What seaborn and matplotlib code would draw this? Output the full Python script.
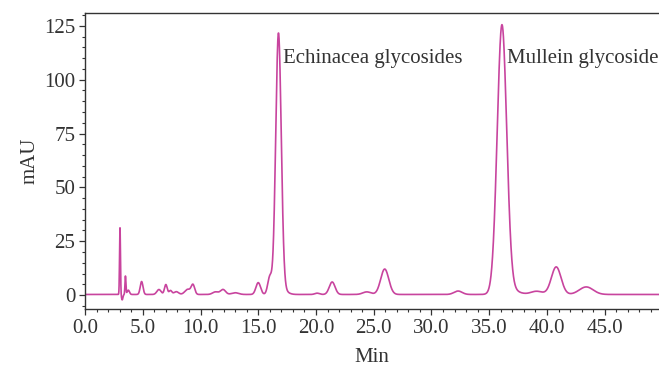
import numpy as np
import pandas as pd
import matplotlib
matplotlib.use("Agg")
import matplotlib.pyplot as plt
import seaborn as sns
from matplotlib.ticker import MultipleLocator

# Peak table (retention time min, height mAU, width sigma min)
peak_rt = [3.03, 3.22, 3.50, 3.75, 4.90, 6.40, 7.00, 7.40, 7.90, 8.90, 9.35,
           11.30, 11.95, 13.00, 15.00, 16.00, 16.75, 17.10, 20.10, 21.40, 24.40,
           25.95, 32.30, 36.10, 36.70, 39.10, 40.80, 43.40]
peak_height = [31.0, -2.5, 8.5, 2.0, 6.0, 2.3, 4.6, 1.8, 1.3, 2.4, 4.3,
               1.2, 2.3, 0.8, 5.5, 8.0, 120.0, 2.0, 0.6, 5.8, 1.2,
               11.8, 1.6, 123.5, 2.5, 1.5, 12.8, 3.5]
peak_sigma = [0.04, 0.06, 0.04, 0.10, 0.12, 0.18, 0.12, 0.12, 0.20, 0.25, 0.15,
              0.25, 0.22, 0.30, 0.20, 0.18, 0.24, 0.40, 0.20, 0.25, 0.35,
              0.35, 0.35, 0.41, 0.70, 0.50, 0.42, 0.60]
baseline_level = 0.3

label_text = ["Echinacea glycosides", "Mullein glycoside"]
label_x = [17.15, 36.55]
label_y = [110.0, 110.0]

x_ticks = [0, 5, 10, 15, 20, 25, 30, 35, 40, 45]
y_ticks = [0, 25, 50, 75, 100, 125]

time = np.linspace(0, 49.7, 6000)
signal = np.full_like(time, baseline_level)
for rt, h, s in zip(peak_rt, peak_height, peak_sigma):
    signal += h * np.exp(-0.5 * ((time - rt) / s) ** 2)
df = pd.DataFrame({"Min": time, "mAU": signal})

sns.set_theme(style="ticks")
plt.rcParams["font.family"] = ["Liberation Serif", "DejaVu Serif"]
text_color = "#333333"
fs = 15

fig, ax = plt.subplots(figsize=(6.59, 3.68), dpi=100)
fig.subplots_adjust(left=0.129, right=1.0, top=0.965, bottom=0.16)

sns.lineplot(data=df, x="Min", y="mAU", ax=ax, color="#C8449E", linewidth=1.2)

for t, x, y in zip(label_text, label_x, label_y):
    ax.text(x, y, t, fontsize=fs, color=text_color, va="center", ha="left")

ax.set_xlim(0, 49.7)
ax.set_ylim(-6.5, 131)
ax.set_xticks(x_ticks)
ax.set_xticklabels([f"{v:.1f}" for v in x_ticks])
ax.set_yticks(y_ticks)
ax.xaxis.set_minor_locator(MultipleLocator(1))
ax.yaxis.set_minor_locator(MultipleLocator(5))
ax.tick_params(axis="both", which="major", labelsize=fs, colors=text_color,
               length=4, width=0.9, direction="out", pad=3)
ax.tick_params(axis="both", which="minor", length=2.5, width=0.8, color=text_color)
ax.set_xlabel("Min", fontsize=fs, color=text_color, labelpad=7.5)
ax.set_ylabel("mAU", fontsize=fs, color=text_color, labelpad=3)
for side in ["left", "bottom", "top"]:
    ax.spines[side].set_color(text_color)
    ax.spines[side].set_linewidth(1.0)
    ax.spines[side].set_visible(True)
ax.spines["right"].set_visible(False)

fig.savefig("out.png", dpi=100)
